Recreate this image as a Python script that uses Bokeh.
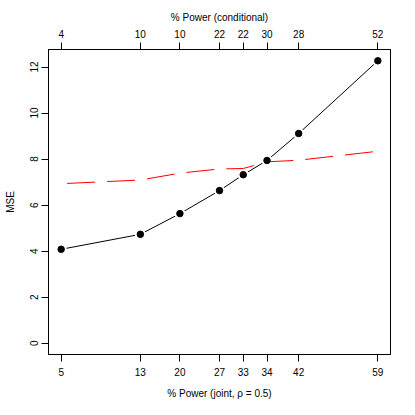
from bokeh.plotting import figure
from bokeh.models import Range1d, FixedTicker, LinearAxis
from bokeh.embed import file_html
from bokeh.resources import INLINE

# underlying x positions (hundredths)
x = [20, 30, 35, 40, 43, 46, 50, 60]
power_joint = ["5", "13", "20", "27", "33", "34", "42", "59"]
power_cond = ["4", "10", "10", "22", "22", "30", "28", "52"]
mse_black = [4.08, 4.73, 5.63, 6.63, 7.32, 7.94, 9.11, 12.27]
mse_red = [6.93, 7.09, 7.39, 7.57, 7.59, 7.88, 7.95, 8.34]
y_ticks = [0, 2, 4, 6, 8, 10, 12]

FONT = "Liberation Sans"
FS = "10px"

xpad = (max(x) - min(x)) * 0.04
ypad = (max(mse_black) - 0) * 0.04

p = figure(width=399, height=401, output_backend="svg", toolbar_location=None,
           x_range=Range1d(min(x) - xpad, max(x) + xpad),
           y_range=Range1d(0 - ypad, max(mse_black) + ypad),
           min_border_left=48, min_border_right=9, min_border_top=49, min_border_bottom=47)
p.grid.visible = False
p.outline_line_color = "black"
p.outline_line_width = 1
p.background_fill_color = "white"
p.border_fill_color = "white"

def style_axis(ax):
    ax.major_tick_out = 7
    ax.major_tick_in = 0
    ax.minor_tick_out = 0
    ax.minor_tick_in = 0
    ax.axis_line_color = "black"
    ax.major_tick_line_color = "black"
    ax.major_label_text_font = FONT
    ax.major_label_text_font_size = FS
    ax.major_label_text_color = "black"
    ax.axis_label_text_font = FONT
    ax.axis_label_text_font_size = FS
    ax.axis_label_text_font_style = "normal"
    ax.axis_label_text_color = "black"

xb = p.xaxis[0]
xb.ticker = FixedTicker(ticks=x)
xb.major_label_overrides = {xi: lab for xi, lab in zip(x, power_joint)}
xb.axis_label = "% Power (joint, \u03c1 = 0.5)"
style_axis(xb)
xb.major_label_standoff = 6
xb.axis_label_standoff = 9

xt = LinearAxis(ticker=FixedTicker(ticks=x),
                major_label_overrides={xi: lab for xi, lab in zip(x, power_cond)},
                axis_label="% Power (conditional)")
style_axis(xt)
xt.major_label_standoff = 5
xt.axis_label_standoff = 4
p.add_layout(xt, "above")

ya = p.yaxis[0]
ya.ticker = FixedTicker(ticks=y_ticks)
ya.axis_label = "MSE"
ya.major_label_orientation = "vertical"
style_axis(ya)
ya.major_label_standoff = 3
ya.axis_label_standoff = 12

p.line(x, mse_black, line_color="black", line_width=1)
# white halo so the connecting line stops short of each point (R type="b")
p.scatter(x, mse_black, size=11, fill_color="white", line_color=None)
p.line(x, mse_red, line_color="red", line_width=1, line_dash="28 12", line_dash_offset=34)
p.scatter(x, mse_black, size=6.5, fill_color="black", line_color="black")

open("out.html", "w").write(file_html(p, INLINE))
